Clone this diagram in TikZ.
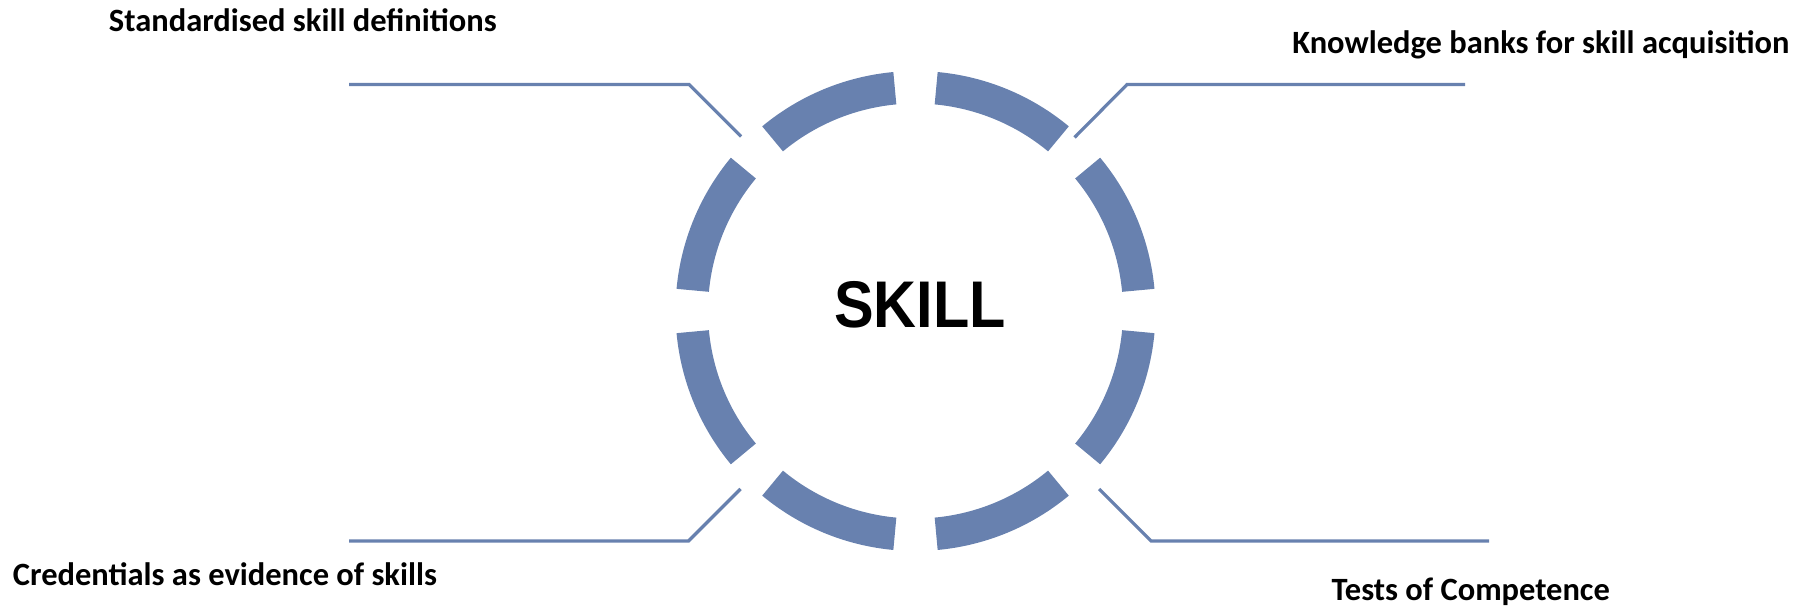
\documentclass[tikz,border=0pt]{standalone}
\usepackage{fontspec}
\usepackage{graphicx}
\setmainfont{Carlito}
\newfontfamily\skillfont{Liberation Sans}
\usetikzlibrary{calc}
\definecolor{ringblue}{RGB}{104,129,175}
\begin{document}
\begin{tikzpicture}[x=1pt,y=-1pt,
  seg/.style={fill=ringblue},
  conn/.style={draw=ringblue,line width=3.2pt},
  lbl/.style={font=\fontsize{32.5}{39}\selectfont\bfseries, inner sep=0pt, anchor=base, text=black}]
\useasboundingbox (0,0) rectangle (1796,609);
\coordinate (c) at (915.5,311);
\foreach \k in {0,...,7}{
  \pgfmathsetmacro\aa{45*\k+5.3}
  \pgfmathsetmacro\bb{45*\k+45-5.3}
  \fill[seg] ($(c)+(\aa:240)$) arc[start angle=\aa, end angle=\bb, radius=240]
     -- ($(c)+(\bb:207.5)$) arc[start angle=\bb, end angle=\aa, radius=207.5] -- cycle;
}
\node[font={\skillfont\fontsize{66}{70}\selectfont\bfseries}, inner sep=0pt, anchor=base] (skill) at (920,327.3) {\scalebox{0.9}[1]{SKILL}};
\node[lbl] (lab1) at (302.8,31.7) {Standardised skill definitions};
\node[lbl] (lab2) at (1540.8,53.3) {Knowledge banks for skill acquisition};
\node[lbl] (lab3) at (225,585) {Credentials as evidence of skills};
\node[lbl] (lab4) at (1470.8,600) {Tests of Competence};
\coordinate (a1) at (349,84.5);
\coordinate (a2) at (689,84.5);
\coordinate (a3) at (741,136.5);
\coordinate (b1) at (1074.5,137.5);
\coordinate (b2) at (1127,84.5);
\coordinate (b3) at (1465,84.5);
\coordinate (d1) at (349,541);
\coordinate (d2) at (688.5,541);
\coordinate (d3) at (740.5,489);
\coordinate (e1) at (1099,489);
\coordinate (e2) at (1151,541);
\coordinate (e3) at (1489,541);
\draw[conn] (a1) -- (a2) -- (a3);
\draw[conn] (b1) -- (b2) -- (b3);
\draw[conn] (d1) -- (d2) -- (d3);
\draw[conn] (e1) -- (e2) -- (e3);
\end{tikzpicture}
\end{document}
